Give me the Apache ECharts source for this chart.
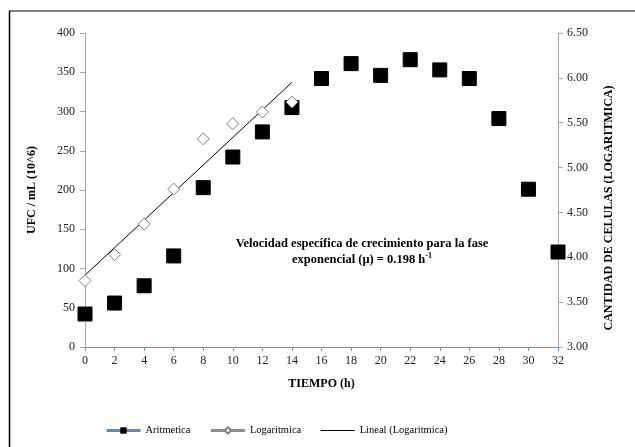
<!DOCTYPE html>
<html>
<head>
<meta charset="utf-8">
<script src="https://cdn.jsdelivr.net/npm/echarts@6/dist/echarts.min.js"></script>
<style>
html,body{margin:0;padding:0;background:#fff;}
#chart{width:635px;height:447px;}
</style>
</head>
<body>
<div id="chart"></div>
<script>
// ---- data ----
var tiempo = [0, 2, 4, 6, 8, 10, 12, 14, 16, 18, 20, 22, 24, 26, 28, 30, 32];
var aritmetica = [42, 56, 78, 116, 203, 242, 274, 305, 342, 361, 346, 366, 353, 342, 291, 201, 121];
var tiempoLog = [0, 2, 4, 6, 8, 10, 12, 14];
var logaritmica = [3.74, 4.03, 4.37, 4.76, 5.32, 5.49, 5.62, 5.73];
var tendenciaX = [0, 14];
var tendenciaY = [3.80, 5.95];
var leftTicks = {min: 0, max: 400, interval: 50};
var rightTicks = {min: 3, max: 6.5, interval: 0.5};
var xTicks = {min: 0, max: 32, interval: 2};
var seriesNames = ['Aritmetica', 'Logaritmica', 'Lineal (Logaritmica)'];
var axisNames = ['TIEMPO (h)', 'UFC / mL (10^6)', 'CANTIDAD DE CELULAS (LOGARITMICA)'];
var annotation1 = 'Velocidad específica de crecimiento para la fase';
var annotation2 = 'exponencial (μ) = 0.198 h';
var annotationSup = '-1';

function zip(a, b) { return a.map(function (v, i) { return [v, b[i]]; }); }

var FONT = '"Liberation Serif", "Times New Roman", serif';
var chart = echarts.init(document.getElementById('chart'), null, {renderer: 'canvas'});

var option = {
  animation: false,
  backgroundColor: '#ffffff',
  textStyle: {fontFamily: FONT},
  grid: {left: 85, right: 77, top: 33, bottom: 100, containLabel: false},
  legend: {
    bottom: 11,
    left: 105,
    padding: 0,
    itemWidth: 34,
    itemHeight: 8,
    itemGap: 19,
    textStyle: {fontFamily: FONT, fontSize: 10.5, color: '#000'},
    data: [
      {name: seriesNames[0], lineStyle: {color: '#4a90d9', width: 3, opacity: 1}},
      {name: seriesNames[1], lineStyle: {color: '#8c8c8c', width: 3, opacity: 1}},
      {name: seriesNames[2], lineStyle: {color: '#000', width: 1, opacity: 1},
        itemStyle: {color: 'rgba(0,0,0,0)', borderWidth: 0, opacity: 0}}
    ]
  },
  xAxis: {
    type: 'value',
    min: xTicks.min, max: xTicks.max, interval: xTicks.interval,
    name: axisNames[0], nameLocation: 'middle', nameGap: 31,
    nameTextStyle: {fontFamily: FONT, fontSize: 12, fontWeight: 'bold', color: '#000'},
    axisLine: {lineStyle: {color: '#5b9bd5', width: 1}},
    axisTick: {show: true, length: 4, lineStyle: {color: '#5b9bd5'}},
    axisLabel: {fontFamily: FONT, fontSize: 12, color: '#222', margin: 8},
    splitLine: {show: false}
  },
  yAxis: [
    {
      type: 'value', position: 'left',
      min: leftTicks.min, max: leftTicks.max, interval: leftTicks.interval,
      name: axisNames[1], nameLocation: 'middle', nameRotate: 90, nameGap: 47,
      nameTextStyle: {fontFamily: FONT, fontSize: 12, fontWeight: 'bold', color: '#000'},
      axisLine: {show: true, lineStyle: {color: '#a6a6a6'}},
      axisTick: {show: true, length: 5, lineStyle: {color: '#a6a6a6'}},
      axisLabel: {fontFamily: FONT, fontSize: 12, color: '#222', margin: 10},
      splitLine: {show: false}
    },
    {
      type: 'value', position: 'right',
      min: rightTicks.min, max: rightTicks.max, interval: rightTicks.interval,
      axisLine: {show: true, lineStyle: {color: '#a6a6a6'}},
      axisTick: {show: true, length: 5, lineStyle: {color: '#a6a6a6'}},
      axisLabel: {fontFamily: FONT, fontSize: 12, color: '#222', margin: 9,
        formatter: function (v) { return v.toFixed(2); }},
      splitLine: {show: false}
    }
  ],
  series: [
    {
      name: seriesNames[0], type: 'line', yAxisIndex: 0,
      data: zip(tiempo, aritmetica),
      symbol: 'rect', symbolSize: 14, showSymbol: true,
      itemStyle: {color: '#000', borderColor: '#000'},
      lineStyle: {opacity: 0, width: 0, color: '#4a90d9'},
      z: 2
    },
    {
      name: seriesNames[1], type: 'line', yAxisIndex: 1,
      data: zip(tiempoLog, logaritmica),
      symbol: 'diamond', symbolSize: 12, showSymbol: true,
      itemStyle: {color: '#fff', borderColor: '#7f7f7f', borderWidth: 1},
      lineStyle: {opacity: 0, width: 0, color: '#8c8c8c'},
      z: 4
    },
    {
      name: seriesNames[2], type: 'line', yAxisIndex: 1,
      data: zip(tendenciaX, tendenciaY),
      symbol: 'none', showSymbol: false,
      itemStyle: {color: '#000'},
      lineStyle: {color: '#000', width: 1},
      z: 3
    }
  ],
  graphic: [
    {type: 'line', shape: {x1: 9, y1: 11, x2: 640, y2: 11}, style: {stroke: '#7f7f7f', lineWidth: 2}, silent: true},
    {type: 'line', shape: {x1: 9.5, y1: 11, x2: 9.5, y2: 450}, style: {stroke: '#000', lineWidth: 1.5}, silent: true},
    {
      type: 'text', x: 609, y: 208, rotation: Math.PI / 2, silent: true,
      style: {
        text: axisNames[2],
        fontFamily: FONT, fontSize: 12, fontWeight: 'bold',
        fill: '#000', align: 'center', verticalAlign: 'middle'
      }
    },
    {
      type: 'text', x: 362, y: 236, silent: true,
      style: {
        text: annotation1 + '\n{m|' + annotation2 + '}{s|' + annotationSup + '}',
        fontFamily: FONT, fontSize: 12.5, fontWeight: 'bold',
        fill: '#000', align: 'center', verticalAlign: 'top', lineHeight: 16,
        rich: {
          m: {fontFamily: FONT, fontSize: 12.5, fontWeight: 'bold', fill: '#000', lineHeight: 16},
          s: {fontFamily: FONT, fontSize: 8, fontWeight: 'bold', fill: '#000', verticalAlign: 'top', lineHeight: 16, padding: [0, 0, 6, 0]}
        }
      }
    }
  ]
};

chart.setOption(option);
</script>
</body>
</html>
